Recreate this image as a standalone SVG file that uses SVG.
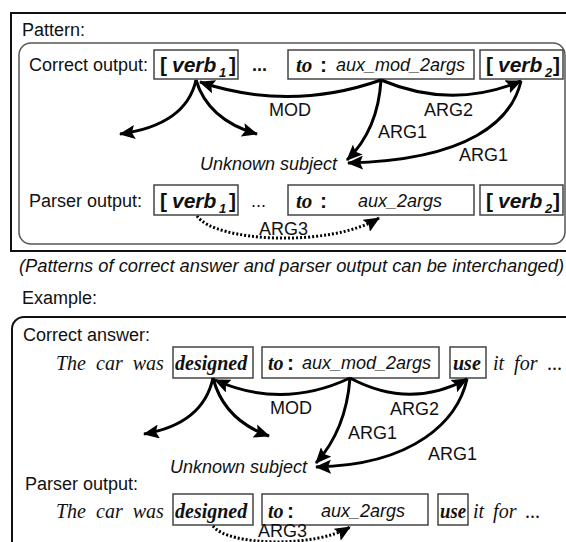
<svg xmlns="http://www.w3.org/2000/svg" width="566" height="542" viewBox="0 0 566 542">
  <defs>
    <style>
      .t { font-family: "Liberation Sans", Arial, sans-serif; font-size: 18px; fill: #111; }
      .ser { font-family: "Liberation Serif", "Times New Roman", serif; font-size: 20px; fill: #111; }
      .it { font-style: italic; }
      .b { font-weight: bold; }
      .big { font-size: 21px; }
      .sub { font-size: 13px; font-weight: bold; font-style: italic; }
      .box { fill: none; stroke: #444; stroke-width: 1.5; }
      .frame { fill: none; stroke: #111; stroke-width: 2; }
      .inner { fill: none; stroke: #555; stroke-width: 1.5; }
      .edge { fill: none; stroke: #000; stroke-width: 3; }
      .dot { fill: none; stroke: #000; stroke-width: 3; stroke-dasharray: 2 2; }
    </style>
    <marker id="head" viewBox="0 0 16 14" refX="15" refY="7" markerWidth="16" markerHeight="14" markerUnits="userSpaceOnUse" orient="auto">
      <path d="M0,0 L16,7 L0,14 L3,7 z" fill="#000"/>
    </marker>
  </defs>

  <!-- ===== Pattern panel ===== -->
  <rect class="frame" x="11" y="13" width="600" height="238"/>
  <text class="t" x="22" y="36">Pattern:</text>
  <rect class="inner" x="19" y="43" width="546" height="201" rx="12"/>

  <!-- correct output row -->
  <text class="t" x="29" y="71">Correct output:</text>
  <g id="p-verb1">
    <rect class="box" x="154" y="50" width="84" height="29"/>
    <text class="t big b" y="72"><tspan x="160">[</tspan><tspan x="172" class="it">verb</tspan><tspan x="219" y="77" class="sub">1</tspan><tspan x="229" y="72">]</tspan></text>
  </g>
  <text class="t b" x="252" y="71">...</text>
  <g id="p-to">
    <rect class="box" x="288" y="50" width="186" height="29"/>
    <text class="ser b it big" x="296" y="72">to</text>
    <text class="t b big" x="320" y="72">:</text>
    <text class="t it" x="336" y="71">aux_mod_2args</text>
  </g>
  <g id="p-verb2">
    <rect class="box" x="480" y="50" width="83" height="29"/>
    <text class="t big b" y="72"><tspan x="486">[</tspan><tspan x="498" class="it">verb</tspan><tspan x="545" y="77" class="sub">2</tspan><tspan x="553" y="72">]</tspan></text>
  </g>
  <g id="p-subject">
    <text class="t it" x="200" y="170">Unknown subject</text>
  </g>

  <!-- parser output row -->
  <text class="t" x="29" y="207">Parser output:</text>
  <g id="p2-verb1">
    <rect class="box" x="154" y="185" width="84" height="30"/>
    <text class="t big b" y="208"><tspan x="160">[</tspan><tspan x="172" class="it">verb</tspan><tspan x="219" y="213" class="sub">1</tspan><tspan x="229" y="208">]</tspan></text>
  </g>
  <text class="t" x="251" y="207">...</text>
  <g id="p2-to">
    <rect class="box" x="288" y="185" width="186" height="30"/>
    <text class="ser b it big" x="296" y="208">to</text>
    <text class="t b big" x="320" y="208">:</text>
    <text class="t it" x="358" y="207">aux_2args</text>
  </g>
  <g id="p2-verb2">
    <rect class="box" x="480" y="185" width="83" height="30"/>
    <text class="t big b" y="208"><tspan x="486">[</tspan><tspan x="498" class="it">verb</tspan><tspan x="545" y="213" class="sub">2</tspan><tspan x="553" y="208">]</tspan></text>
  </g>

  <text class="t it" x="19" y="272" textLength="545" lengthAdjust="spacingAndGlyphs">(Patterns of correct answer and parser output can be interchanged)</text>

  <!-- ===== Example panel ===== -->
  <text class="t" x="22" y="304">Example:</text>
  <rect class="frame" x="12" y="317" width="600" height="300" rx="12"/>

  <text class="t" x="23" y="341">Correct answer:</text>
  <text class="ser it" x="56" y="370" word-spacing="5">The car was</text>
  <g id="e-designed">
    <rect class="box" x="173" y="347" width="80" height="31"/>
    <text class="ser b it" x="175" y="370">designed</text>
  </g>
  <g id="e-to">
    <rect class="box" x="262" y="347" width="177" height="31"/>
    <text class="ser b it" x="268" y="370">to</text>
    <text class="t b big" x="287" y="370">:</text>
    <text class="t it" x="302" y="369">aux_mod_2args</text>
  </g>
  <g id="e-use">
    <rect class="box" x="450" y="347" width="36" height="31"/>
    <text class="ser b it" x="453" y="370">use</text>
  </g>
  <text class="ser it" x="493" y="370" word-spacing="5">it for ...</text>
  <g id="e-subject">
    <text class="t it" x="170" y="473">Unknown subject</text>
  </g>

  <text class="t" x="25" y="490">Parser output:</text>
  <text class="ser it" x="56" y="518" word-spacing="5">The car was</text>
  <g id="e2-designed">
    <rect class="box" x="173" y="494" width="80" height="31"/>
    <text class="ser b it" x="175" y="518">designed</text>
  </g>
  <g id="e2-to">
    <rect class="box" x="262" y="494" width="166" height="31"/>
    <text class="ser b it" x="268" y="518">to</text>
    <text class="t b big" x="287" y="518">:</text>
    <text class="t it" x="321" y="517">aux_2args</text>
  </g>
  <g id="e2-use">
    <rect class="box" x="438" y="494" width="30" height="31"/>
    <text class="ser b it" x="440" y="518" textLength="26" lengthAdjust="spacingAndGlyphs">use</text>
  </g>
  <text class="ser it" x="473" y="518" word-spacing="4">it for ...</text>

  <!-- ===== connectors ===== -->
  <g id="connectors">
    <!-- pattern -->
    <path class="edge" d="M381,80 Q290,112 200,82" marker-end="url(#head)"/>
    <path class="edge" d="M381,80 Q452,110 521,81" marker-end="url(#head)"/>
    <path class="edge" d="M196,80 Q186,125 120,134" marker-end="url(#head)"/>
    <path class="edge" d="M196,80 Q208,120 257,134" marker-end="url(#head)"/>
    <path class="edge" d="M381,80 Q378,130 347,160" marker-end="url(#head)"/>
    <path class="edge" d="M521,81 C512,120 470,160 348,163" marker-end="url(#head)"/>
    <path class="dot" d="M197,216 C215,242 330,248 379,218" marker-end="url(#head)"/>
    <!-- example -->
    <path class="edge" d="M350,378 Q282,410 215,380" marker-end="url(#head)"/>
    <path class="edge" d="M350,378 Q410,410 467,379" marker-end="url(#head)"/>
    <path class="edge" d="M213,378 Q203,424 144,434" marker-end="url(#head)"/>
    <path class="edge" d="M213,378 Q224,420 269,436" marker-end="url(#head)"/>
    <path class="edge" d="M350,378 Q346,430 316,463" marker-end="url(#head)"/>
    <path class="edge" d="M467,379 C458,420 415,465 316,467" marker-end="url(#head)"/>
    <path class="dot" d="M213,526 C228,546 315,548 350,527" marker-end="url(#head)"/>
  </g>

  <!-- edge labels -->
  <g id="labels">
    <text class="t" x="269" y="116">MOD</text>
    <text class="t" x="424" y="116">ARG2</text>
    <text class="t" x="378" y="138">ARG1</text>
    <text class="t" x="459" y="161">ARG1</text>
    <text class="t" x="259" y="235">ARG3</text>
    <text class="t" x="270" y="414">MOD</text>
    <text class="t" x="390" y="415">ARG2</text>
    <text class="t" x="348" y="439">ARG1</text>
    <text class="t" x="428" y="460">ARG1</text>
    <text class="t" x="258" y="537">ARG3</text>
  </g>
</svg>
